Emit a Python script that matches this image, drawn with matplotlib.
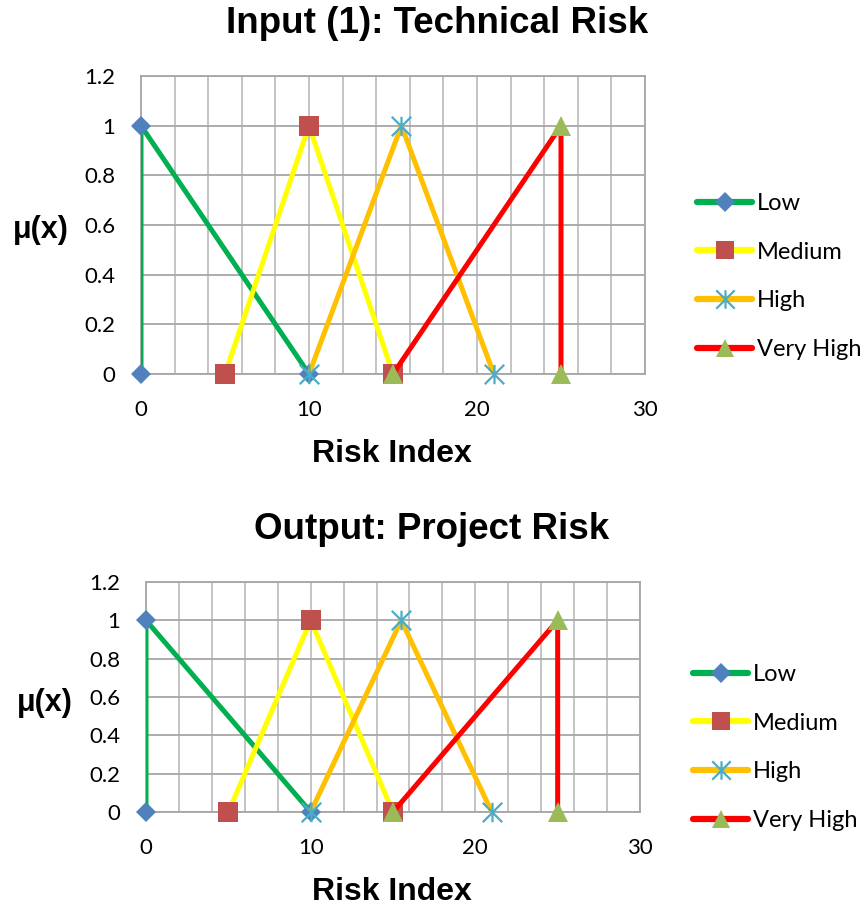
import matplotlib
matplotlib.use("Agg")
import matplotlib.pyplot as plt
from matplotlib.path import Path

# membership functions (same for both panels)
low_x = [0, 0, 10]
low_y = [0, 1, 0]
med_x = [5, 10, 15]
med_y = [0, 1, 0]
high_x = [10, 15.5, 21]
high_y = [0, 1, 0]
vhigh_x = [15, 25, 25]
vhigh_y = [0, 1, 0]

names = ["Low", "Medium", "High", "Very High"]
titles = ["Input (1): Technical Risk", "Output: Project Risk"]
x_ticks = [0, 10, 20, 30]
y_ticks = [0, 0.2, 0.4, 0.6, 0.8, 1, 1.2]
y_labels = ["0", "0.2", "0.4", "0.6", "0.8", "1", "1.2"]

line_cols = ["#00B050", "#FFFF00", "#FFC000", "#FF0000"]
mark_cols = ["#4F81BD", "#C0504D", "#4BACC6", "#9BBB59"]

star = Path([(-1, -1), (1, 1), (-1, 1), (1, -1), (0, -1), (0, 1)],
            [Path.MOVETO, Path.LINETO] * 3)
markers = ["D", "s", star, "^"]
msizes = [10.5, 14, 14, 14]

plt.rcParams["font.family"] = ["Lato", "DejaVu Sans"]
W, H = 866, 907
fig = plt.figure(figsize=(W / 100, H / 100), dpi=100)

# axes boxes in pixels: left, right, top(1.2), bottom(0)
boxes = [(141, 645, 76, 374), (146, 640, 582, 812)]
title_pos = [(437, 33), (432, 539)]
xlab_pos = [(392, 462), (392, 900)]
ylab_pos = [(41, 230), (45, 703)]
leg_pos = [(697, 193), (693, 664)]

series = [(low_x, low_y), (med_x, med_y), (high_x, high_y), (vhigh_x, vhigh_y)]

for k in range(2):
    l, r, t, b = boxes[k]
    ax = fig.add_axes([l / W, (H - b) / H, (r - l) / W, (b - t) / H])
    handles = []
    for i, (xs, ys) in enumerate(series):
        ax.plot(xs, ys, color=line_cols[i], lw=3.6, solid_capstyle="butt",
                zorder=3 + 2 * i)
        filled = markers[i] is not star
        ax.plot(xs, ys, ls="none", marker=markers[i], ms=msizes[i],
                mfc=mark_cols[i] if filled else "none", mec=mark_cols[i],
                mew=0 if filled else 1.6, clip_on=False, zorder=4 + 2 * i)
        h, = ax.plot([], [], color=line_cols[i], lw=4.5, solid_capstyle="round",
                     marker=markers[i], ms=msizes[i] * 0.95,
                     mfc=mark_cols[i] if filled else "none", mec=mark_cols[i],
                     mew=0 if filled else 1.6)
        handles.append(h)

    ax.set_xlim(0, 30)
    ax.set_ylim(0, 1.2)
    ax.set_xticks(x_ticks)
    ax.set_xticks(range(0, 31, 2), minor=True)
    ax.set_yticks(y_ticks)
    ax.set_yticklabels(y_labels)
    ax.tick_params(which="both", length=0, labelsize=16, pad=18.5)
    ax.set_axisbelow(True)
    ax.grid(axis="y", color="#A6A6A6", lw=1.3)
    ax.grid(axis="x", which="both", color="#BFBFBF", lw=1.3)
    for s in ax.spines.values():
        s.set_color("#A6A6A6")
        s.set_linewidth(1.3)

    fig.text(title_pos[k][0] / W, (H - title_pos[k][1]) / H, titles[k],
             family="Liberation Sans", weight="bold", fontsize=26.5,
             ha="center", va="baseline")
    fig.text(xlab_pos[k][0] / W, (H - xlab_pos[k][1]) / H, "Risk Index",
             family="Liberation Sans", weight="bold", fontsize=23,
             ha="center", va="baseline")
    fig.text(ylab_pos[k][0] / W, (H - ylab_pos[k][1]) / H, "μ(x)",
             family="Liberation Sans", weight="bold", fontsize=22,
             ha="center", va="center")

    fig.legend(handles, names, loc="upper left",
               bbox_to_anchor=(leg_pos[k][0] / W, (H - leg_pos[k][1]) / H),
               frameon=False, fontsize=17, borderpad=0, borderaxespad=0,
               handlelength=2.35, handletextpad=0.2, labelspacing=1.17,
               numpoints=1)

fig.savefig("out.png", dpi=100)
